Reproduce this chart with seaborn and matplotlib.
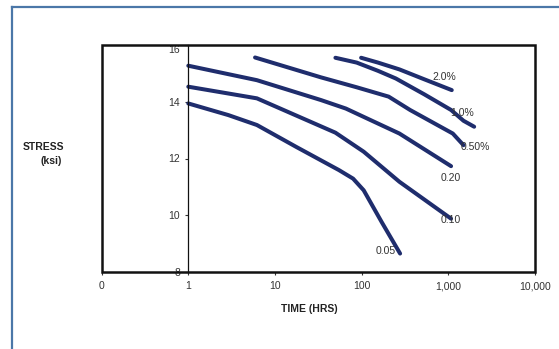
import numpy as np
import pandas as pd
import matplotlib
matplotlib.use("Agg")
import matplotlib.pyplot as plt
from matplotlib.lines import Line2D
from matplotlib.patches import Rectangle
import seaborn as sns

sns.set_style("white")
plt.rcParams['font.family'] = ['Liberation Sans', 'DejaVu Sans']

# ---- data ----
t_005 = [1, 2.9, 6.2, 17.6, 55, 80, 106, 171, 279]
s_005 = [13.94, 13.53, 13.18, 12.41, 11.59, 11.29, 10.88, 9.76, 8.65]

t_010 = [1, 6.2, 50, 106, 274, 1082]
s_010 = [14.53, 14.12, 12.91, 12.24, 11.18, 9.88]

t_020 = [1, 6.2, 34, 66, 128, 274, 1082]
s_020 = [15.27, 14.76, 14.06, 13.76, 13.35, 12.88, 11.73]

t_050 = [5.9, 34, 88, 206, 364, 1133, 1506]
s_050 = [15.56, 14.86, 14.51, 14.18, 13.71, 12.88, 12.47]

t_100 = [50, 88, 155, 249, 532, 1082, 1506, 2000]
s_100 = [15.55, 15.38, 15.09, 14.82, 14.26, 13.71, 13.33, 13.12]

t_200 = [99, 155, 274, 532, 1102]
s_200 = [15.55, 15.38, 15.14, 14.79, 14.41]

series_names = ["0.05", "0.10", "0.20", "0.50%", "1.0%", "2.0%"]
label_t = [188, 1082, 1082, 2057, 1436, 895]
label_s = [8.73, 9.82, 11.33, 12.40, 13.59, 14.88]

x_ticks = [0.1, 1, 10, 100, 1000, 10000]
x_ticklabels = ["0", "1", "10", "100", "1,000", "10,000"]
y_ticks = [8, 10, 12, 14, 16]
y_ticklabels = ["8", "10", "12", "14", "16"]

all_t = [t_005, t_010, t_020, t_050, t_100, t_200]
all_s = [s_005, s_010, s_020, s_050, s_100, s_200]
frames = []
for name, tt, ss in zip(series_names, all_t, all_s):
    frames.append(pd.DataFrame({"time": tt, "stress": ss, "strain": name,
                                "order": range(len(tt))}))
df = pd.concat(frames, ignore_index=True)

LINE = "#1f2d6d"
W, H = 559, 349
fig = plt.figure(figsize=(W / 100, H / 100), dpi=100)
fig.patch.set_facecolor("white")

# outer frame (partially visible)
fig.add_artist(Line2D([11.5 / W, 11.5 / W], [0, 1 - 7 / H], color="#4b77a8", lw=1.6,
                      transform=fig.transFigure, solid_capstyle="projecting"))
fig.add_artist(Line2D([11.5 / W, 1.0], [1 - 7 / H, 1 - 7 / H], color="#4b77a8", lw=1.6,
                      transform=fig.transFigure, solid_capstyle="projecting"))

left, right, top, bottom = 101.7, 534.7, 45, 272
ax = fig.add_axes([left / W, 1 - bottom / H, (right - left) / W, (bottom - top) / H])

sns.lineplot(data=df, x="time", y="stress", hue="strain", units="strain",
             estimator=None, sort=False, palette=[LINE] * 6, lw=2.9,
             legend=False, ax=ax, solid_capstyle="round")

ax.set_xscale("log")
ax.set_xlim(0.1, 10000)
ax.set_ylim(8, 16)
ax.set_xticks(x_ticks)
ax.set_xticklabels(x_ticklabels)
ax.minorticks_off()
ax.set_yticks(y_ticks)
ax.set_yticklabels(y_ticklabels)
ax.set_xlabel("")
ax.set_ylabel("")

# y-axis drawn at time = 1
for s in ["top", "right", "bottom"]:
    ax.spines[s].set_visible(False)
ax.spines["left"].set_position(("data", 1))
ax.spines["left"].set_linewidth(0.9)
ax.spines["left"].set_color("#111111")
ax.add_patch(Rectangle((0, 0), 1, 1, transform=ax.transAxes, fill=False,
                       edgecolor="#111111", lw=1.8, clip_on=False, zorder=5))

ax.tick_params(axis="x", direction="out", length=2.5, width=0.8, pad=4,
               labelsize=7.5, labelcolor="#333333", color="#333333", bottom=True)
ax.tick_params(axis="y", direction="out", length=2.5, width=0.8, pad=3.5,
               labelsize=7.5, labelcolor="#333333", color="#333333", left=True)
for lab in ax.get_yticklabels():
    if lab.get_text() == "16":
        lab.set_va("top")

for name, lt, ls in zip(series_names, label_t, label_s):
    ax.text(lt, ls, name, ha="center", va="center", fontsize=7.5, color="#333333",
            zorder=6)

fig.text(309 / W, 1 - 309 / H, "TIME (HRS)", ha="center", va="center",
         fontsize=7.5, fontweight="bold", color="#222222")
fig.text(43 / W, 1 - 147.5 / H, "STRESS", ha="center", va="center",
         fontsize=7.5, fontweight="bold", color="#222222")
fig.text(51 / W, 1 - 160.5 / H, "(ksi)", ha="center", va="center",
         fontsize=7.5, fontweight="bold", color="#222222")

fig.savefig("out.png", dpi=100, facecolor="white")
